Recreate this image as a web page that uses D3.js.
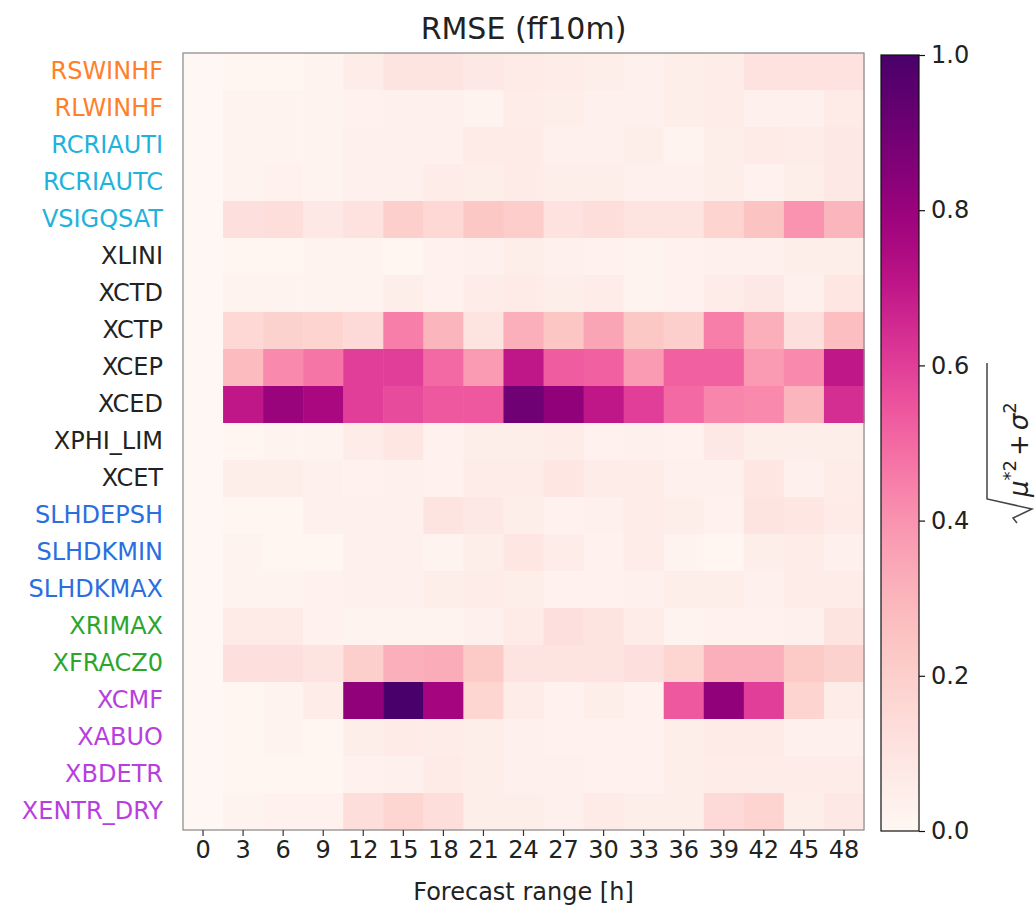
<!DOCTYPE html>
<meta charset="utf-8">
<head>
	<script src="https://cdn.jsdelivr.net/npm/d3@7"></script>
	<style>
		body { margin: 0; background: #fff; }
		text { font-family: "DejaVu Sans", sans-serif; }
	</style>
</head>
<body>
	<div id="heatmap"></div>
	<script>
		// forecast ranges (columns) and parameters (rows)
		var hours = [0, 3, 6, 9, 12, 15, 18, 21, 24, 27, 30, 33, 36, 39, 42, 45, 48];
		var params = ["RSWINHF", "RLWINHF", "RCRIAUTI", "RCRIAUTC", "VSIGQSAT", "XLINI", "XCTD", "XCTP", "XCEP", "XCED",
			"XPHI_LIM", "XCET", "SLHDEPSH", "SLHDKMIN", "SLHDKMAX", "XRIMAX", "XFRACZ0", "XCMF", "XABUO", "XBDETR", "XENTR_DRY"];
		var groups = ["rad", "rad", "micro", "micro", "micro", "turb", "turb", "turb", "turb", "turb",
			"turb", "turb", "dyn", "dyn", "dyn", "surf", "surf", "conv", "conv", "conv", "conv"];
		var groupColor = {rad: "#ff7f2a", micro: "#1fb2dc", turb: "#222222", dyn: "#2a6ee0", surf: "#2ca52c", conv: "#b83ee0"};

		// rmse values, one row per parameter
		var rmse = [
			[0, 0.01, 0.01, 0.02, 0.06, 0.10, 0.10, 0.08, 0.07, 0.06, 0.05, 0.04, 0.05, 0.06, 0.11, 0.11, 0.11],
			[0, 0.02, 0.02, 0.02, 0.03, 0.04, 0.04, 0.02, 0.06, 0.05, 0.04, 0.04, 0.05, 0.06, 0.04, 0.04, 0.07],
			[0, 0.02, 0.02, 0.02, 0.04, 0.04, 0.04, 0.07, 0.07, 0.04, 0.04, 0.05, 0.02, 0.05, 0.07, 0.06, 0.08],
			[0, 0.02, 0.03, 0.02, 0.04, 0.04, 0.06, 0.05, 0.07, 0.05, 0.05, 0.04, 0.04, 0.05, 0.03, 0.05, 0.08],
			[0, 0.12, 0.13, 0.08, 0.11, 0.20, 0.16, 0.23, 0.21, 0.11, 0.13, 0.10, 0.10, 0.18, 0.25, 0.40, 0.30],
			[0, 0.01, 0.01, 0.02, 0.02, 0.01, 0.03, 0.04, 0.05, 0.04, 0.03, 0.02, 0.03, 0.04, 0.04, 0.05, 0.05],
			[0, 0.02, 0.02, 0.02, 0.02, 0.05, 0.03, 0.06, 0.07, 0.05, 0.06, 0.02, 0.03, 0.06, 0.08, 0.04, 0.09],
			[0, 0.16, 0.19, 0.18, 0.15, 0.45, 0.30, 0.10, 0.32, 0.24, 0.35, 0.23, 0.20, 0.45, 0.32, 0.12, 0.27],
			[0, 0.28, 0.42, 0.47, 0.60, 0.60, 0.50, 0.38, 0.70, 0.53, 0.52, 0.38, 0.52, 0.52, 0.38, 0.42, 0.70],
			[0, 0.70, 0.80, 0.76, 0.60, 0.57, 0.54, 0.54, 0.90, 0.82, 0.70, 0.60, 0.50, 0.43, 0.42, 0.30, 0.64],
			[0, 0.01, 0.02, 0.02, 0.06, 0.09, 0.03, 0.05, 0.05, 0.06, 0.03, 0.04, 0.03, 0.08, 0.05, 0.05, 0.05],
			[0, 0.05, 0.05, 0.04, 0.03, 0.04, 0.03, 0.06, 0.06, 0.09, 0.06, 0.06, 0.04, 0.04, 0.09, 0.04, 0.06],
			[0, 0.01, 0.01, 0.04, 0.04, 0.04, 0.10, 0.08, 0.05, 0.03, 0.04, 0.06, 0.05, 0.03, 0.10, 0.09, 0.07],
			[0, 0.02, 0.01, 0.01, 0.04, 0.04, 0.02, 0.05, 0.09, 0.06, 0.03, 0.06, 0.02, 0.01, 0.05, 0.06, 0.04],
			[0, 0.02, 0.02, 0.03, 0.04, 0.04, 0.05, 0.06, 0.05, 0.03, 0.03, 0.04, 0.05, 0.05, 0.04, 0.06, 0.06],
			[0, 0.07, 0.07, 0.03, 0.02, 0.02, 0.02, 0.04, 0.07, 0.12, 0.10, 0.06, 0.02, 0.03, 0.03, 0.04, 0.10],
			[0, 0.12, 0.12, 0.10, 0.20, 0.32, 0.33, 0.22, 0.10, 0.10, 0.10, 0.12, 0.17, 0.32, 0.32, 0.22, 0.19],
			[0, 0.01, 0.02, 0.06, 0.82, 1.00, 0.77, 0.17, 0.06, 0.03, 0.05, 0.03, 0.54, 0.82, 0.60, 0.18, 0.06],
			[0, 0.01, 0.02, 0.01, 0.05, 0.07, 0.06, 0.05, 0.04, 0.03, 0.03, 0.03, 0.05, 0.07, 0.07, 0.04, 0.04],
			[0, 0.01, 0.01, 0.01, 0.03, 0.04, 0.07, 0.05, 0.04, 0.04, 0.03, 0.03, 0.05, 0.06, 0.06, 0.06, 0.06],
			[0, 0.02, 0.03, 0.03, 0.13, 0.17, 0.13, 0.05, 0.05, 0.04, 0.07, 0.05, 0.05, 0.15, 0.18, 0.05, 0.08]
		];
		var cbarTicks = [0, 0.2, 0.4, 0.6, 0.8, 1.0];

		var margin = {top: 53, right: 172, bottom: 83, left: 183},
			width = 1036 - margin.left - margin.right,
			height = 913 - margin.top - margin.bottom;

		var svg = d3.select("#heatmap")
			.append("svg")
			.attr("width", 1036)
			.attr("height", 913);
		var g = svg.append("g")
			.attr("transform", "translate(" + margin.left + "," + margin.top + ")");

		var x = d3.scaleBand().domain(hours).range([0, width]);
		var y = d3.scaleBand().domain(params).range([0, height]);
		var color = d3.scaleSequential(d3.interpolateRdPu).domain([0, 1]);

		var cells = [];
		rmse.forEach(function(row, i) {
			row.forEach(function(v, j) {
				cells.push({p: params[i], h: hours[j], v: v});
			});
		});

		g.selectAll("rect.cell")
			.data(cells)
			.enter()
			.append("rect")
			.attr("class", "cell")
			.attr("x", d => x(d.h))
			.attr("y", d => y(d.p))
			.attr("width", x.bandwidth() + 0.5)
			.attr("height", y.bandwidth() + 0.5)
			.attr("fill", d => color(d.v));

		// frame
		g.append("rect")
			.attr("width", width)
			.attr("height", height)
			.attr("fill", "none")
			.attr("stroke", "#888")
			.attr("stroke-width", 1.2);

		// x axis
		var xAxis = g.append("g")
			.attr("transform", "translate(0," + height + ")")
			.call(d3.axisBottom(x).tickSize(6).tickPadding(5));
		xAxis.select(".domain").remove();
		xAxis.selectAll("line").attr("stroke", "#333").attr("stroke-width", 1.2);
		xAxis.selectAll("text").attr("font-size", 24).attr("fill", "#222")
			.attr("font-family", "DejaVu Sans");

		// y axis labels, coloured by group
		var yAxis = g.append("g")
			.call(d3.axisLeft(y).tickSize(0).tickPadding(20));
		yAxis.select(".domain").remove();
		yAxis.selectAll("text")
			.attr("font-size", 24)
			.attr("font-family", "DejaVu Sans")
			.attr("fill", (d, i) => groupColor[groups[i]]);

		g.append("text")
			.attr("x", width / 2)
			.attr("y", 900 - margin.top)
			.attr("text-anchor", "middle")
			.attr("font-size", 24)
			.attr("fill", "#222")
			.text("Forecast range [h]");

		svg.append("text")
			.attr("x", margin.left + width / 2)
			.attr("y", 39)
			.attr("text-anchor", "middle")
			.attr("font-size", 30)
			.attr("fill", "#222")
			.text("RMSE (ff10m)");

		// colour bar
		var cbX = 881, cbW = 38, cbTop = 55, cbBot = 831;
		var cy = d3.scaleLinear().domain([0, 1]).range([cbBot, cbTop]);
		var defs = svg.append("defs");
		var grad = defs.append("linearGradient")
			.attr("id", "cbgrad")
			.attr("x1", 0).attr("y1", 1).attr("x2", 0).attr("y2", 0);
		d3.range(0, 1.0001, 0.05).forEach(function(t) {
			grad.append("stop").attr("offset", t).attr("stop-color", color(t));
		});
		svg.append("rect")
			.attr("x", cbX).attr("y", cbTop)
			.attr("width", cbW).attr("height", cbBot - cbTop)
			.attr("fill", "url(#cbgrad)")
			.attr("stroke", "#111")
			.attr("stroke-width", 1.2);
		var cAxis = svg.append("g")
			.attr("transform", "translate(" + (cbX + cbW) + ",0)")
			.call(d3.axisRight(cy).tickValues(cbarTicks).tickFormat(d3.format(".1f")).tickSize(6).tickPadding(6));
		cAxis.select(".domain").remove();
		cAxis.selectAll("line").attr("stroke", "#111").attr("stroke-width", 1.2);
		cAxis.selectAll("text").attr("font-size", 24).attr("font-family", "DejaVu Sans").attr("fill", "#222");

		// colour bar label: sqrt(mu*^2 + sigma^2)
		var lab = svg.append("g")
			.attr("transform", "translate(1028,445) rotate(-90)");
		lab.append("path")
			.attr("d", "M-78,-11 L-73,-15 L-64,4 L-54,-41 L82,-41")
			.attr("fill", "none")
			.attr("stroke", "#444")
			.attr("stroke-width", 1.5);
		var lt = lab.append("text")
			.attr("x", -52)
			.attr("y", 0)
			.attr("font-size", 26)
			.attr("font-style", "italic")
			.attr("fill", "#222");
		lt.append("tspan").text("μ");
		lt.append("tspan").attr("dy", -12).attr("font-size", 18).attr("font-style", "normal").text("*2");
		lt.append("tspan").attr("dy", 12).attr("dx", 4).attr("font-style", "normal").text("+");
		lt.append("tspan").attr("dx", 4).text("σ");
		lt.append("tspan").attr("dy", -12).attr("font-size", 18).attr("font-style", "normal").text("2");
	</script>
</body>
</html>
